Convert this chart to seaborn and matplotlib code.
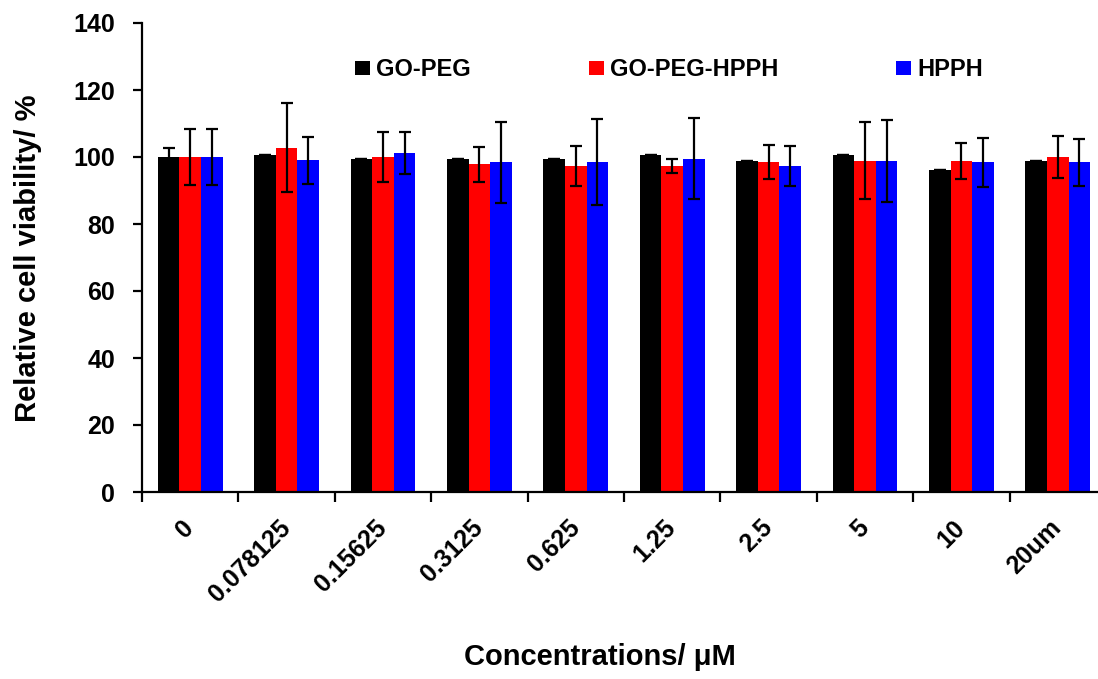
import numpy as np
import pandas as pd
import matplotlib
matplotlib.use("Agg")
import matplotlib.pyplot as plt
import seaborn as sns

categories = ["0", "0.078125", "0.15625", "0.3125", "0.625", "1.25", "2.5", "5", "10", "20um"]
series = ["GO-PEG", "GO-PEG-HPPH", "HPPH"]
colors = ["#000000", "#ff0000", "#0000ff"]

go_peg = [100.0, 100.5, 99.4, 99.4, 99.4, 100.5, 98.9, 100.5, 96.2, 98.9]
go_peg_err = [2.6, 0.0, 0.0, 0.0, 0.0, 0.0, 0.0, 0.0, 0.0, 0.0]
go_peg_hpph = [100.0, 102.8, 100.0, 97.8, 97.3, 97.3, 98.4, 98.9, 98.9, 100.0]
go_peg_hpph_err = [8.5, 13.3, 7.6, 5.2, 6.0, 2.2, 5.1, 11.4, 5.4, 6.2]
hpph = [100.0, 99.0, 101.2, 98.4, 98.4, 99.5, 97.3, 98.9, 98.4, 98.4]
hpph_err = [8.5, 7.0, 6.2, 12.0, 12.8, 12.0, 6.0, 12.2, 7.4, 7.1]

values = [go_peg, go_peg_hpph, hpph]
errors = [go_peg_err, go_peg_hpph_err, hpph_err]

df = pd.DataFrame({
    "Concentration": categories * 3,
    "Viability": go_peg + go_peg_hpph + hpph,
    "Sample": [s for s in series for _ in categories],
})

sns.set_theme(style="ticks")
plt.rcParams["font.family"] = ["Liberation Sans", "DejaVu Sans"]
plt.rcParams["font.weight"] = "bold"
for key in ["text.color", "axes.labelcolor", "xtick.color", "ytick.color",
            "axes.edgecolor"]:
    plt.rcParams[key] = "black"

fig = plt.figure(figsize=(10.98, 6.79), dpi=100)
ax = fig.add_axes([142 / 1098, 1 - 492 / 679, 964 / 1098, 469 / 679])

sns.barplot(data=df, x="Concentration", y="Viability", hue="Sample",
            order=categories, hue_order=series, palette=colors,
            saturation=1, width=0.672, gap=0, errorbar=None,
            linewidth=0, ax=ax)

bar_containers = list(ax.containers)
for cont, vals, errs in zip(bar_containers, values, errors):
    xs = [b.get_x() + b.get_width() / 2 for b in cont]
    ax.errorbar(xs, vals, yerr=errs, fmt="none", ecolor="black",
                elinewidth=1.6, capsize=4.5, capthick=1.6, zorder=3)

ax.set_xlim(-0.5, 9.5)
ax.set_ylim(0, 140)
ax.set_yticks(np.arange(0, 141, 20))
ax.set_xticks(range(len(categories)))
ax.set_xticklabels(categories, rotation=45, ha="right", va="center",
                   rotation_mode="anchor", fontsize=18, fontweight="bold",
                   color="black")
ax.set_xticks(np.arange(-0.5, len(categories), 1), minor=True)
ax.tick_params(axis="x", which="major", length=0, pad=23)
ax.tick_params(axis="x", which="minor", length=7, width=1.6, direction="out", color="black")
ax.tick_params(axis="y", length=6.5, width=1.6, pad=13, labelsize=18,
               color="black", labelcolor="black")
for lbl in ax.get_yticklabels():
    lbl.set_fontweight("bold")

sns.despine(ax=ax)
for sp in ["left", "bottom"]:
    ax.spines[sp].set_linewidth(1.6)
    ax.spines[sp].set_color("black")

ax.set_ylabel("Relative cell viability/ %", fontsize=21, fontweight="bold", color="black")
ax.set_xlabel("Concentrations/ \u03bcM", fontsize=21, fontweight="bold", va="top", color="black")
ax.yaxis.set_label_coords((42 - 142) / 964, (492 - 258) / 469)
ax.xaxis.set_label_coords((600 - 142) / 964, (492 - 643) / 469)

handles, labels = ax.get_legend_handles_labels()
leg = ax.legend(handles[:3], labels[:3], loc="center left",
                bbox_to_anchor=((355 - 142) / 964, (492 - 70) / 469),
                ncol=3, frameon=False, borderaxespad=0, borderpad=0,
                handlelength=0.64, handleheight=0.55, handletextpad=0.25,
                columnspacing=5.0, prop={"weight": "bold", "size": 17})
for t in leg.get_texts():
    t.set_color("black")

fig.savefig("out.png", dpi=100)
